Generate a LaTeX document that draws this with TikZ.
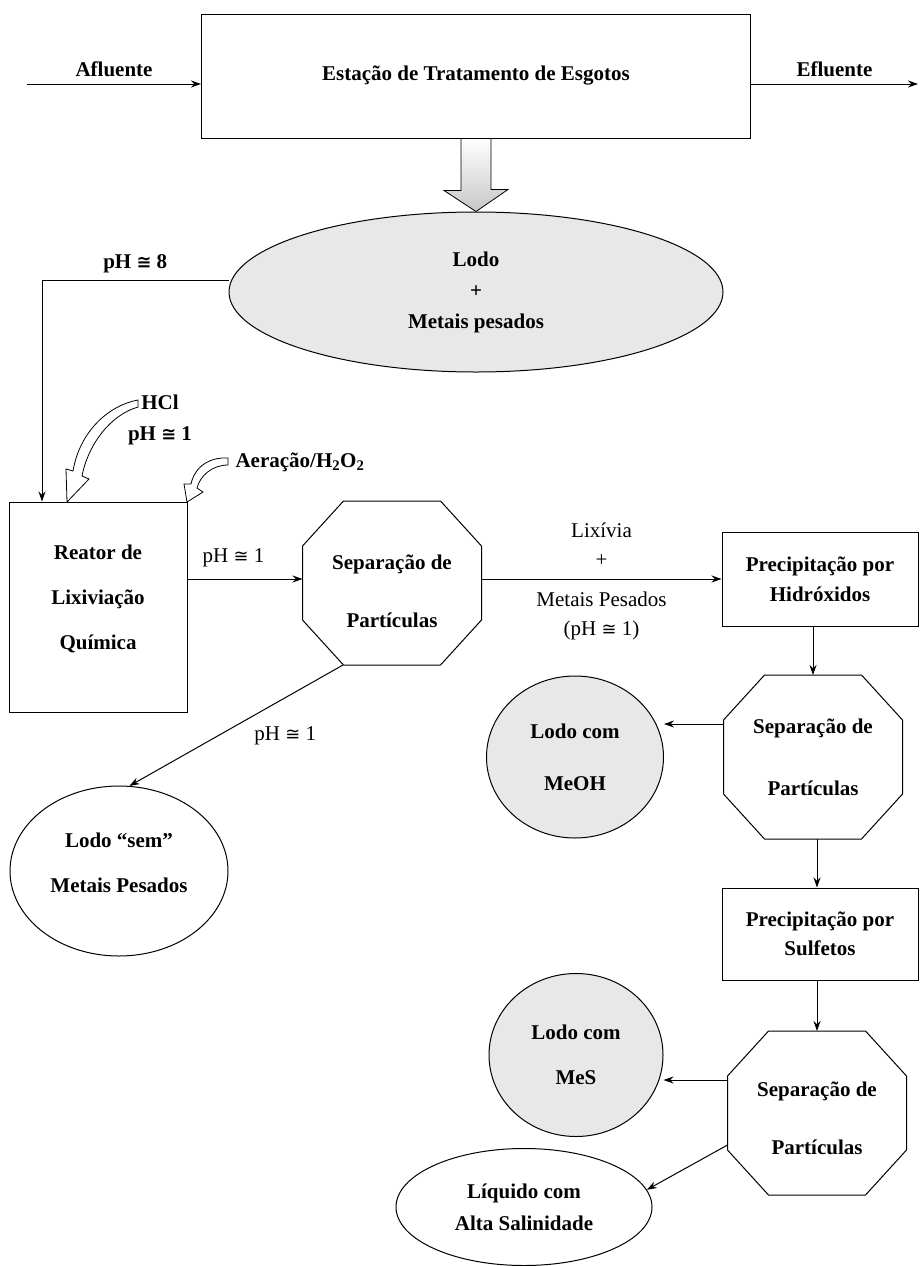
\documentclass[tikz,border=0pt]{standalone}
\usepackage{fontspec}
\setmainfont{Liberation Serif}
\newfontfamily\simb[Scale=0.85]{DejaVu Sans}
\newcommand{\quase}{{\simb ≅}}
\usepackage{tikz}
\usetikzlibrary{arrows.meta, positioning, shapes.geometric, calc}

\begin{document}
\begin{tikzpicture}[x=1pt, y=-1pt, line width=1pt,
	every node/.style={font=\bfseries\fontsize{21}{30}\selectfont, inner sep=0pt, align=center},
	caixa/.style={draw, rectangle},
	oval/.style={draw, ellipse},
	octo/.style={rectangle, minimum width=178pt, minimum height=163pt},
	cinza/.style={fill=black!9},
	fino/.style={font=\fontsize{21}{29}\selectfont},
	seta/.style={-{Stealth[length=10pt, width=7pt]}},
	oca/.style={draw, fill=white, line width=0.8pt}]

\useasboundingbox (0,0) rectangle (920,1266);

\node[caixa, minimum width=549pt, minimum height=124pt] (ete) at (476,76) {Estação de Tratamento de Esgotos};
\coordinate (entra) at (27,84);
\coordinate (sai) at (918,84);
\draw[seta] (entra) -- node[above=7pt]{Afluente} (entra -| ete.west);
\draw[seta] (ete.east |- sai) -- node[above=7pt]{Efluente} (sai);

\node[oval, cinza, minimum width=494pt, minimum height=160pt, font=\bfseries\fontsize{21}{31}\selectfont] (lodo) at (476,292) {Lodo\\+\\Metais pesados};
\draw[oca, top color=white, bottom color=black!22] ([xshift=-15pt]ete.south) -- ++(0,52) -- ++(-17,0)
	-- (lodo.north) -- ++(32,-22) -- ++(-17,0) -- ([xshift=15pt]ete.south) -- cycle;

\node[caixa, minimum width=178pt, minimum height=210pt, text depth=20pt, font=\bfseries\fontsize{21}{45}\selectfont] (reator) at (98,607) {Reator de\\Lixiviação\\Química};
\coordinate (desce) at (42,280);
\draw[seta] (desce -| lodo.west) -- node[above=7pt]{pH \quase{} 8} (desce) -- (desce |- reator.north);

\node[font=\bfseries\fontsize{21}{31}\selectfont] (hcl) at (160,420) {HCl\\pH \quase{} 1};
\node (aer) at (300,462) {Aeração/H\textsubscript{2}O\textsubscript{2}};
\draw[oca] (138,400) .. controls (110,405) and (80,430) .. (73,471) -- (66,469) -- (67,502) -- (89,479)
	-- (82,476) .. controls (88,445) and (110,415) .. (138,407) -- cycle;
\draw[oca] (228,458) .. controls (210,457) and (195,466) .. (191,484) -- (184,484) -- (187,502) -- (203,492)
	-- (197,488) .. controls (200,476) and (212,465) .. (228,465) -- cycle;

\node[octo, text height=90pt, font=\bfseries\fontsize{21}{58}\selectfont] (sep1) at (392,583) {Separação de\\Partículas};
\node[caixa, minimum width=196pt, minimum height=94pt] (hid) at (820,579) {Precipitação por\\Hidróxidos};
\node[oval, minimum width=218pt, minimum height=170pt, text depth=16pt, font=\bfseries\fontsize{21}{45}\selectfont] (sem) at (119,871) {Lodo “sem”\\Metais Pesados};

\draw[seta] (reator.east |- hid.west) -- node[above=12pt, pos=0.4, fino]{pH \quase{} 1} (reator.east |- hid.west -| sep1.west);
\draw[seta] (sep1.east |- hid.west) -- node[above=12pt, fino]{Lixívia\\+} node[below=12pt, fino]{Metais Pesados\\(pH \quase{} 1)} (hid.west);
\draw[seta] ([xshift=-49pt]sep1.south) -- node[pos=0.45, below right=10pt, fino]{pH \quase{} 1} (sem.83);

\node[octo, font=\bfseries\fontsize{21}{62}\selectfont] (sep2) at (813,757) {Separação de\\Partículas};
\node[oval, cinza, minimum width=177pt, minimum height=162pt, font=\bfseries\fontsize{21}{52}\selectfont] (meoh) at (575,757) {Lodo com\\MeOH};
\node[caixa, minimum width=196pt, minimum height=92pt, font=\bfseries\fontsize{21}{29}\selectfont] (sul) at (820,934) {Precipitação por\\Sulfetos};
\node[octo, text height=84pt, font=\bfseries\fontsize{21}{58}\selectfont] (sep3) at (817,1113) {Separação de\\Partículas};
\node[oval, cinza, minimum width=174pt, minimum height=163pt, font=\bfseries\fontsize{21}{45}\selectfont] (mes) at (576,1055) {Lodo com\\MeS};
\node[oval, minimum width=256pt, minimum height=117pt, font=\bfseries\fontsize{21}{32}\selectfont] (liq) at (524,1207) {Líquido com\\Alta Salinidade};

\foreach \s in {sep1,sep2,sep3}
	\draw ([xshift=41pt]\s.north west) -- ([xshift=-41pt]\s.north east) -- ([yshift=-45pt]\s.north east)
		-- ([yshift=45pt]\s.south east) -- ([xshift=-41pt]\s.south east) -- ([xshift=41pt]\s.south west)
		-- ([yshift=45pt]\s.south west) -- ([yshift=-45pt]\s.north west) -- cycle;

\coordinate (m2) at ([yshift=33pt]sep2.west);
\coordinate (m3) at ([yshift=33pt]sep3.west);
\draw[seta] (sep2.north |- hid.south) -- (sep2.north);
\draw[seta] (m2) -- (m2 -| meoh.east);
\draw[seta] (sep3.north |- sep2.south) -- (sep3.north |- sul.north);
\draw[seta] (sep3.north |- sul.south) -- (sep3.north);
\draw[seta] (m3) -- (m3 -| mes.east);
\draw[seta] ([yshift=-32pt]sep3.west) -- (liq.8);
\end{tikzpicture}
\end{document}
